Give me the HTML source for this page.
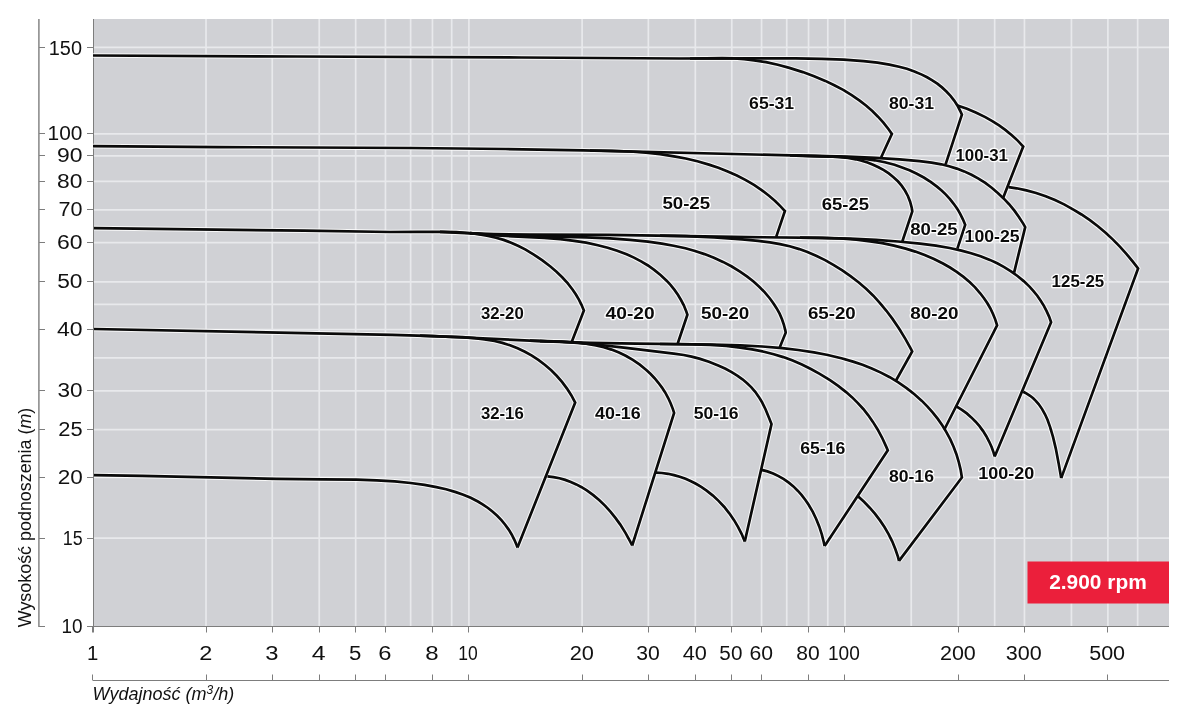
<!DOCTYPE html>
<html><head><meta charset="utf-8"><style>
html,body{margin:0;padding:0;background:#fff;}
svg{display:block;will-change:transform;}
</style></head><body>
<svg width="1200" height="717" viewBox="0 0 1200 717">
<rect x="93" y="19" width="1076" height="607.5" fill="#d0d1d5"/>
<path d="M206.02,19 V626.5 M272.25,19 V626.5 M319.23,19 V626.5 M355.68,19 V626.5 M385.46,19 V626.5 M410.64,19 V626.5 M432.45,19 V626.5 M451.69,19 V626.5 M468.90,19 V626.5 M582.12,19 V626.5 M648.35,19 V626.5 M695.33,19 V626.5 M731.78,19 V626.5 M761.56,19 V626.5 M786.74,19 V626.5 M808.55,19 V626.5 M827.79,19 V626.5 M845.00,19 V626.5 M911.23,19 V626.5 M958.22,19 V626.5 M994.67,19 V626.5 M1024.45,19 V626.5 M1071.43,19 V626.5 M1107.88,19 V626.5 M1137.66,19 V626.5 M93,47.30 H1169 M93,133.80 H1169 M93,155.90 H1169 M93,181.40 H1169 M93,209.90 H1169 M93,242.70 H1169 M93,281.90 H1169 M93,304.40 H1169 M93,329.50 H1169 M93,357.90 H1169 M93,390.90 H1169 M93,429.70 H1169 M93,477.30 H1169 M93,538.20 H1169" stroke="#e8e9ec" stroke-width="1.7" fill="none"/>
<path d="M93.5,19 V632.5 M87,626.5 H1169 M39,47.5 H45 M87,47.5 H93 M39,133.5 H45 M87,133.5 H93 M39,155.5 H45 M87,155.5 H93 M39,181.5 H45 M87,181.5 H93 M39,209.5 H45 M87,209.5 H93 M39,242.5 H45 M87,242.5 H93 M39,281.5 H45 M87,281.5 H93 M39,329.5 H45 M87,329.5 H93 M39,390.5 H45 M87,390.5 H93 M39,429.5 H45 M87,429.5 H93 M39,477.5 H45 M87,477.5 H93 M39,538.5 H45 M87,538.5 H93 M39,626.5 H45 M87,626.5 H93 M92.5,626.5 V632.5 M92.5,674.5 V680.5 M206.5,626.5 V632.5 M206.5,674.5 V680.5 M272.5,626.5 V632.5 M272.5,674.5 V680.5 M319.5,626.5 V632.5 M319.5,674.5 V680.5 M355.5,626.5 V632.5 M355.5,674.5 V680.5 M385.5,626.5 V632.5 M385.5,674.5 V680.5 M432.5,626.5 V632.5 M432.5,674.5 V680.5 M468.5,626.5 V632.5 M468.5,674.5 V680.5 M582.5,626.5 V632.5 M582.5,674.5 V680.5 M648.5,626.5 V632.5 M648.5,674.5 V680.5 M695.5,626.5 V632.5 M695.5,674.5 V680.5 M731.5,626.5 V632.5 M731.5,674.5 V680.5 M761.5,626.5 V632.5 M761.5,674.5 V680.5 M808.5,626.5 V632.5 M808.5,674.5 V680.5 M844.5,626.5 V632.5 M844.5,674.5 V680.5 M958.5,626.5 V632.5 M958.5,674.5 V680.5 M1024.5,626.5 V632.5 M1024.5,674.5 V680.5 M1107.5,626.5 V632.5 M1107.5,674.5 V680.5 M93,680.5 H1169" stroke="#7d7d7d" stroke-width="1" fill="none"/>
<path d="M38.9,19 V627.0" stroke="#858585" stroke-width="1.5" fill="none"/>
<g stroke="#fff" stroke-width="4.7" fill="none" stroke-linejoin="miter" stroke-miterlimit="10" opacity="0.85">
<path d="M93.0,55.5 L297.2,56.5 L521.4,57.5 L679.5,58.5 L753.5,58.4 L795.6,58.3 L821.6,58.8 L843.6,59.7 L863.6,61.2 L877.5,62.7 L889.4,64.6 L899.1,66.7 L906.9,68.8 L914.4,71.4 L921.8,74.6 L927.1,77.3 L932.3,80.3 L937.3,83.7 L942.0,87.4 L946.4,91.5 L950.5,95.9 L954.2,100.6 L957.5,105.7 L960.3,111.0 L961.9,114.6 L945.6,164.4"/>
<path d="M690.0,58.5 L722.1,58.1 L734.2,58.4 L744.2,59.1 L754.1,60.3 L766.0,62.2 L777.8,64.8 L789.4,67.9 L802.8,72.1 L814.1,76.2 L825.3,80.9 L834.3,85.2 L843.2,89.9 L851.7,95.2 L860.0,100.9 L866.3,105.8 L872.3,111.1 L878.0,116.7 L883.4,122.7 L888.4,129.0 L891.9,133.9 L881.2,157.3"/>
<path d="M957.5,105.5 L967.0,108.8 L976.3,112.7 L985.3,117.1 L992.3,121.1 L999.1,125.4 L1005.6,130.1 L1011.8,135.2 L1017.7,140.6 L1023.2,146.5 L1003.2,197.8"/>
<path d="M93.0,146.2 L219.1,147.1 L411.3,148.0 L505.4,149.0 L583.5,150.4 L791.6,155.4 L847.6,156.7 L875.6,157.8 L899.6,159.3 L919.5,161.1 L931.5,162.6 L941.3,164.3 L949.1,166.2 L956.8,168.6 L964.2,171.4 L971.5,174.8 L978.5,178.6 L985.3,182.9 L991.7,187.7 L997.8,192.9 L1003.6,198.4 L1009.1,204.2 L1014.2,210.4 L1018.9,216.9 L1023.2,223.6 L1025.2,227.1 L1014.1,272.6"/>
<path d="M590.0,150.5 L612.0,150.8 L630.1,151.5 L646.0,152.7 L660.0,154.2 L673.9,156.3 L685.7,158.5 L697.4,161.3 L708.9,164.6 L718.4,167.8 L727.7,171.4 L736.9,175.5 L745.8,180.1 L754.4,185.2 L762.7,190.9 L769.0,195.8 L775.1,201.0 L780.8,206.6 L784.9,211.0 L776.2,236.9"/>
<path d="M790.0,155.4 L802.0,155.9 L828.1,156.3 L838.1,156.9 L848.0,157.9 L855.9,159.3 L861.7,160.7 L867.5,162.5 L873.1,164.7 L878.5,167.2 L883.8,170.1 L888.8,173.4 L893.5,177.2 L897.9,181.3 L901.8,185.9 L905.1,190.8 L908.0,196.2 L910.1,201.7 L911.7,207.6 L912.3,211.5 L902.4,241.2"/>
<path d="M795.0,155.5 L839.1,156.8 L853.1,157.7 L865.0,158.9 L874.9,160.3 L884.8,162.3 L894.5,164.8 L902.1,167.4 L909.5,170.3 L916.8,173.7 L923.8,177.5 L930.6,181.8 L937.0,186.6 L941.6,190.5 L945.9,194.6 L950.0,199.1 L953.7,203.8 L957.2,208.7 L960.2,213.9 L962.9,219.3 L965.2,224.8 L957.4,248.7"/>
<path d="M94.0,228.2 L304.2,230.7 L390.3,232.0 L418.3,231.9 L442.4,231.8 L456.4,232.2 L468.3,233.0 L478.3,234.2 L488.2,235.9 L496.0,237.7 L503.6,239.9 L511.1,242.7 L518.5,246.0 L525.6,249.6 L534.2,254.8 L542.4,260.4 L550.4,266.5 L556.5,271.7 L562.2,277.3 L567.6,283.2 L572.5,289.5 L575.9,294.5 L578.9,299.7 L581.6,305.1 L583.9,310.6 L571.7,342.0"/>
<path d="M440.0,231.8 L466.0,233.2 L494.0,234.1 L530.0,234.6 L608.0,234.8 L674.1,235.9 L748.1,237.1 L818.1,237.8 L850.1,238.7 L876.1,239.9 L898.1,241.5 L920.0,243.6 L935.9,245.7 L949.7,248.0 L961.4,250.6 L971.1,253.2 L980.6,256.3 L989.9,259.9 L997.2,263.3 L1004.2,267.1 L1011.0,271.3 L1017.5,276.0 L1023.7,281.1 L1029.5,286.6 L1033.5,291.1 L1037.3,295.7 L1040.7,300.7 L1043.9,305.8 L1046.6,311.1 L1049.1,316.6 L1051.1,322.2 L994.7,456.5"/>
<path d="M470.0,233.1 L486.0,234.7 L506.1,236.0 L544.2,237.9 L560.2,239.2 L574.2,240.8 L586.1,242.7 L597.9,245.2 L607.7,247.7 L617.2,250.7 L626.6,254.3 L634.0,257.6 L641.1,261.4 L648.0,265.5 L654.5,270.1 L660.8,275.2 L666.6,280.7 L670.7,285.2 L674.5,289.9 L677.9,294.8 L681.0,300.0 L683.8,305.3 L686.1,310.9 L687.4,314.7 L677.8,343.2"/>
<path d="M470.0,233.1 L488.0,234.5 L510.0,235.6 L544.0,236.5 L586.0,237.4 L610.0,238.4 L630.0,239.8 L647.9,241.6 L661.8,243.6 L673.6,245.7 L685.4,248.3 L695.0,251.0 L704.5,254.1 L713.9,257.7 L723.0,261.9 L731.8,266.5 L740.4,271.8 L746.9,276.4 L753.2,281.3 L759.2,286.7 L764.8,292.4 L769.9,298.5 L773.5,303.4 L776.7,308.4 L779.6,313.7 L782.0,319.2 L783.9,324.9 L785.4,330.7 L785.7,332.7 L779.8,347.2"/>
<path d="M660.0,235.6 L686.1,236.2 L714.1,237.5 L742.1,239.3 L758.1,240.8 L770.0,242.3 L779.9,244.1 L789.7,246.3 L799.3,249.1 L806.8,251.8 L816.1,255.7 L825.1,260.1 L833.8,265.1 L842.3,270.4 L850.5,276.1 L858.5,282.2 L866.1,288.8 L873.3,295.7 L880.0,303.1 L886.4,310.8 L892.5,318.9 L899.2,328.8 L905.5,339.1 L911.3,349.6 L912.2,351.4 L896.0,380.5"/>
<path d="M800.0,237.6 L822.1,237.8 L840.2,238.5 L856.3,239.7 L870.2,241.3 L882.2,243.2 L894.0,245.6 L905.7,248.6 L915.3,251.6 L924.7,255.0 L934.0,259.0 L943.0,263.5 L950.0,267.5 L956.7,271.8 L963.2,276.6 L969.3,281.8 L975.1,287.4 L980.4,293.5 L984.0,298.3 L987.4,303.3 L990.4,308.5 L993.0,314.0 L995.3,319.6 L997.1,325.3 L944.6,429.0"/>
<path d="M956.8,406.7 L961.9,409.9 L966.8,413.4 L971.3,417.4 L975.6,421.7 L979.5,426.2 L983.1,431.1 L986.3,436.2 L989.1,441.5 L991.6,447.0 L993.6,452.6 L994.7,456.5"/>
<path d="M1008.6,187.1 L1016.6,188.3 L1026.4,190.4 L1036.1,193.0 L1045.7,196.3 L1055.0,200.1 L1064.1,204.4 L1073.0,209.3 L1081.5,214.5 L1089.9,220.2 L1097.9,226.3 L1105.6,232.8 L1113.0,239.6 L1120.1,246.8 L1126.8,254.3 L1133.2,262.1 L1138.1,268.5 L1061.2,478.1"/>
<path d="M1023.2,391.7 L1026.7,393.6 L1030.1,395.8 L1033.2,398.3 L1036.0,401.1 L1038.6,404.1 L1042.1,409.1 L1045.0,414.3 L1047.5,419.8 L1050.2,427.3 L1053.0,436.9 L1055.8,448.6 L1058.8,464.3 L1061.2,478.1"/>
<path d="M94.0,329.0 L316.2,333.4 L392.2,334.8 L434.2,336.1 L488.2,338.6 L546.2,341.4 L590.2,342.8 L636.3,343.7 L712.3,344.5 L740.4,345.3 L762.4,346.5 L782.3,348.2 L798.2,350.0 L814.0,352.4 L827.8,355.0 L841.4,358.3 L853.0,361.6 L862.5,364.8 L871.8,368.4 L880.9,372.6 L889.8,377.2 L898.3,382.4 L906.6,388.1 L914.4,394.3 L921.9,400.9 L927.5,406.6 L932.8,412.6 L937.8,418.9 L942.4,425.5 L946.5,432.3 L950.3,439.4 L953.6,446.7 L956.4,454.2 L958.7,461.8 L960.6,469.6 L961.9,477.5 L899.0,560.9"/>
<path d="M420.0,335.6 L438.2,336.4 L462.4,337.2 L474.5,338.1 L484.5,339.3 L494.5,341.0 L502.3,342.9 L510.0,345.3 L517.6,348.3 L524.9,351.7 L531.9,355.6 L538.7,360.1 L545.1,365.0 L551.2,370.3 L556.9,376.0 L562.2,382.1 L567.0,388.6 L571.4,395.4 L575.2,402.5 L517.5,547.5"/>
<path d="M530.0,340.7 L562.1,341.6 L576.2,342.5 L586.1,343.7 L596.0,345.4 L603.8,347.2 L611.5,349.6 L619.0,352.5 L626.2,356.0 L633.2,360.1 L639.8,364.6 L646.0,369.7 L650.4,373.8 L654.6,378.2 L658.4,382.8 L662.0,387.6 L665.3,392.7 L668.2,398.0 L670.7,403.5 L672.9,409.1 L674.1,412.9 L632.2,545.5"/>
<path d="M540.0,341.1 L556.0,341.5 L574.1,342.6 L596.1,344.5 L626.0,347.9 L673.8,353.7 L683.7,355.0 L691.6,356.6 L699.3,358.6 L708.9,361.7 L718.2,365.4 L725.5,368.7 L732.5,372.6 L737.6,375.8 L742.5,379.3 L747.1,383.2 L751.4,387.4 L755.4,392.0 L758.8,396.9 L761.9,402.0 L765.5,409.2 L769.3,418.5 L771.5,424.1 L744.8,541.5"/>
<path d="M660.0,344.0 L692.1,344.3 L710.2,344.9 L726.2,346.0 L740.2,347.6 L752.1,349.4 L763.9,351.7 L773.7,354.2 L783.3,357.1 L792.7,360.6 L801.9,364.6 L810.9,369.0 L819.7,373.9 L830.0,380.2 L838.2,385.9 L846.1,392.1 L852.2,397.4 L857.9,403.1 L863.3,409.0 L868.3,415.3 L872.9,421.9 L877.2,428.7 L882.0,437.5 L886.2,446.6 L887.8,450.3 L824.6,546.1"/>
<path d="M94.0,475.2 L142.1,475.8 L276.4,478.8 L322.5,479.3 L356.6,479.6 L376.7,480.3 L394.7,481.4 L410.6,483.0 L424.5,484.9 L436.4,487.1 L446.1,489.3 L455.8,492.1 L463.3,494.7 L470.7,497.8 L477.9,501.5 L483.0,504.6 L488.0,508.0 L492.7,511.7 L497.2,515.7 L501.4,520.1 L505.2,524.7 L508.7,529.6 L511.8,534.7 L514.5,540.1 L516.8,545.6 L517.5,547.5"/>
<path d="M547.5,476.3 L553.5,477.1 L559.4,478.3 L565.2,479.9 L570.8,482.0 L576.3,484.4 L581.6,487.2 L586.8,490.4 L593.3,495.1 L599.4,500.3 L605.2,505.9 L610.6,511.8 L615.6,518.1 L620.3,524.6 L625.6,533.1 L630.4,541.9 L632.2,545.5"/>
<path d="M656.0,472.6 L662.0,473.0 L668.0,473.8 L674.0,475.1 L679.8,476.7 L685.5,478.8 L691.0,481.2 L696.4,484.0 L701.6,487.1 L706.6,490.6 L712.9,495.6 L718.8,501.1 L724.3,507.0 L729.3,513.3 L733.9,519.9 L738.0,526.9 L741.7,534.1 L744.8,541.5"/>
<path d="M761.6,469.9 L767.4,471.4 L773.1,473.5 L778.6,476.1 L783.8,479.1 L788.8,482.6 L793.4,486.4 L797.7,490.7 L801.7,495.2 L805.4,500.0 L808.8,505.0 L812.8,511.9 L816.3,519.2 L819.3,526.7 L821.8,534.3 L823.8,542.2 L824.6,546.1"/>
<path d="M858.0,496.3 L864.0,501.8 L869.7,507.7 L875.1,513.9 L880.0,520.4 L884.6,527.2 L888.7,534.3 L892.3,541.6 L895.4,549.2 L898.0,556.9 L899.0,560.9"/>
</g>
<g stroke="#0a0a0a" stroke-width="2.7" fill="none" stroke-linejoin="miter" stroke-miterlimit="10">
<path d="M93.0,55.5 L297.2,56.5 L521.4,57.5 L679.5,58.5 L753.5,58.4 L795.6,58.3 L821.6,58.8 L843.6,59.7 L863.6,61.2 L877.5,62.7 L889.4,64.6 L899.1,66.7 L906.9,68.8 L914.4,71.4 L921.8,74.6 L927.1,77.3 L932.3,80.3 L937.3,83.7 L942.0,87.4 L946.4,91.5 L950.5,95.9 L954.2,100.6 L957.5,105.7 L960.3,111.0 L961.9,114.6 L945.6,164.4"/>
<path d="M690.0,58.5 L722.1,58.1 L734.2,58.4 L744.2,59.1 L754.1,60.3 L766.0,62.2 L777.8,64.8 L789.4,67.9 L802.8,72.1 L814.1,76.2 L825.3,80.9 L834.3,85.2 L843.2,89.9 L851.7,95.2 L860.0,100.9 L866.3,105.8 L872.3,111.1 L878.0,116.7 L883.4,122.7 L888.4,129.0 L891.9,133.9 L881.2,157.3"/>
<path d="M957.5,105.5 L967.0,108.8 L976.3,112.7 L985.3,117.1 L992.3,121.1 L999.1,125.4 L1005.6,130.1 L1011.8,135.2 L1017.7,140.6 L1023.2,146.5 L1003.2,197.8"/>
<path d="M93.0,146.2 L219.1,147.1 L411.3,148.0 L505.4,149.0 L583.5,150.4 L791.6,155.4 L847.6,156.7 L875.6,157.8 L899.6,159.3 L919.5,161.1 L931.5,162.6 L941.3,164.3 L949.1,166.2 L956.8,168.6 L964.2,171.4 L971.5,174.8 L978.5,178.6 L985.3,182.9 L991.7,187.7 L997.8,192.9 L1003.6,198.4 L1009.1,204.2 L1014.2,210.4 L1018.9,216.9 L1023.2,223.6 L1025.2,227.1 L1014.1,272.6"/>
<path d="M590.0,150.5 L612.0,150.8 L630.1,151.5 L646.0,152.7 L660.0,154.2 L673.9,156.3 L685.7,158.5 L697.4,161.3 L708.9,164.6 L718.4,167.8 L727.7,171.4 L736.9,175.5 L745.8,180.1 L754.4,185.2 L762.7,190.9 L769.0,195.8 L775.1,201.0 L780.8,206.6 L784.9,211.0 L776.2,236.9"/>
<path d="M790.0,155.4 L802.0,155.9 L828.1,156.3 L838.1,156.9 L848.0,157.9 L855.9,159.3 L861.7,160.7 L867.5,162.5 L873.1,164.7 L878.5,167.2 L883.8,170.1 L888.8,173.4 L893.5,177.2 L897.9,181.3 L901.8,185.9 L905.1,190.8 L908.0,196.2 L910.1,201.7 L911.7,207.6 L912.3,211.5 L902.4,241.2"/>
<path d="M795.0,155.5 L839.1,156.8 L853.1,157.7 L865.0,158.9 L874.9,160.3 L884.8,162.3 L894.5,164.8 L902.1,167.4 L909.5,170.3 L916.8,173.7 L923.8,177.5 L930.6,181.8 L937.0,186.6 L941.6,190.5 L945.9,194.6 L950.0,199.1 L953.7,203.8 L957.2,208.7 L960.2,213.9 L962.9,219.3 L965.2,224.8 L957.4,248.7"/>
<path d="M94.0,228.2 L304.2,230.7 L390.3,232.0 L418.3,231.9 L442.4,231.8 L456.4,232.2 L468.3,233.0 L478.3,234.2 L488.2,235.9 L496.0,237.7 L503.6,239.9 L511.1,242.7 L518.5,246.0 L525.6,249.6 L534.2,254.8 L542.4,260.4 L550.4,266.5 L556.5,271.7 L562.2,277.3 L567.6,283.2 L572.5,289.5 L575.9,294.5 L578.9,299.7 L581.6,305.1 L583.9,310.6 L571.7,342.0"/>
<path d="M440.0,231.8 L466.0,233.2 L494.0,234.1 L530.0,234.6 L608.0,234.8 L674.1,235.9 L748.1,237.1 L818.1,237.8 L850.1,238.7 L876.1,239.9 L898.1,241.5 L920.0,243.6 L935.9,245.7 L949.7,248.0 L961.4,250.6 L971.1,253.2 L980.6,256.3 L989.9,259.9 L997.2,263.3 L1004.2,267.1 L1011.0,271.3 L1017.5,276.0 L1023.7,281.1 L1029.5,286.6 L1033.5,291.1 L1037.3,295.7 L1040.7,300.7 L1043.9,305.8 L1046.6,311.1 L1049.1,316.6 L1051.1,322.2 L994.7,456.5"/>
<path d="M470.0,233.1 L486.0,234.7 L506.1,236.0 L544.2,237.9 L560.2,239.2 L574.2,240.8 L586.1,242.7 L597.9,245.2 L607.7,247.7 L617.2,250.7 L626.6,254.3 L634.0,257.6 L641.1,261.4 L648.0,265.5 L654.5,270.1 L660.8,275.2 L666.6,280.7 L670.7,285.2 L674.5,289.9 L677.9,294.8 L681.0,300.0 L683.8,305.3 L686.1,310.9 L687.4,314.7 L677.8,343.2"/>
<path d="M470.0,233.1 L488.0,234.5 L510.0,235.6 L544.0,236.5 L586.0,237.4 L610.0,238.4 L630.0,239.8 L647.9,241.6 L661.8,243.6 L673.6,245.7 L685.4,248.3 L695.0,251.0 L704.5,254.1 L713.9,257.7 L723.0,261.9 L731.8,266.5 L740.4,271.8 L746.9,276.4 L753.2,281.3 L759.2,286.7 L764.8,292.4 L769.9,298.5 L773.5,303.4 L776.7,308.4 L779.6,313.7 L782.0,319.2 L783.9,324.9 L785.4,330.7 L785.7,332.7 L779.8,347.2"/>
<path d="M660.0,235.6 L686.1,236.2 L714.1,237.5 L742.1,239.3 L758.1,240.8 L770.0,242.3 L779.9,244.1 L789.7,246.3 L799.3,249.1 L806.8,251.8 L816.1,255.7 L825.1,260.1 L833.8,265.1 L842.3,270.4 L850.5,276.1 L858.5,282.2 L866.1,288.8 L873.3,295.7 L880.0,303.1 L886.4,310.8 L892.5,318.9 L899.2,328.8 L905.5,339.1 L911.3,349.6 L912.2,351.4 L896.0,380.5"/>
<path d="M800.0,237.6 L822.1,237.8 L840.2,238.5 L856.3,239.7 L870.2,241.3 L882.2,243.2 L894.0,245.6 L905.7,248.6 L915.3,251.6 L924.7,255.0 L934.0,259.0 L943.0,263.5 L950.0,267.5 L956.7,271.8 L963.2,276.6 L969.3,281.8 L975.1,287.4 L980.4,293.5 L984.0,298.3 L987.4,303.3 L990.4,308.5 L993.0,314.0 L995.3,319.6 L997.1,325.3 L944.6,429.0"/>
<path d="M956.8,406.7 L961.9,409.9 L966.8,413.4 L971.3,417.4 L975.6,421.7 L979.5,426.2 L983.1,431.1 L986.3,436.2 L989.1,441.5 L991.6,447.0 L993.6,452.6 L994.7,456.5"/>
<path d="M1008.6,187.1 L1016.6,188.3 L1026.4,190.4 L1036.1,193.0 L1045.7,196.3 L1055.0,200.1 L1064.1,204.4 L1073.0,209.3 L1081.5,214.5 L1089.9,220.2 L1097.9,226.3 L1105.6,232.8 L1113.0,239.6 L1120.1,246.8 L1126.8,254.3 L1133.2,262.1 L1138.1,268.5 L1061.2,478.1"/>
<path d="M1023.2,391.7 L1026.7,393.6 L1030.1,395.8 L1033.2,398.3 L1036.0,401.1 L1038.6,404.1 L1042.1,409.1 L1045.0,414.3 L1047.5,419.8 L1050.2,427.3 L1053.0,436.9 L1055.8,448.6 L1058.8,464.3 L1061.2,478.1"/>
<path d="M94.0,329.0 L316.2,333.4 L392.2,334.8 L434.2,336.1 L488.2,338.6 L546.2,341.4 L590.2,342.8 L636.3,343.7 L712.3,344.5 L740.4,345.3 L762.4,346.5 L782.3,348.2 L798.2,350.0 L814.0,352.4 L827.8,355.0 L841.4,358.3 L853.0,361.6 L862.5,364.8 L871.8,368.4 L880.9,372.6 L889.8,377.2 L898.3,382.4 L906.6,388.1 L914.4,394.3 L921.9,400.9 L927.5,406.6 L932.8,412.6 L937.8,418.9 L942.4,425.5 L946.5,432.3 L950.3,439.4 L953.6,446.7 L956.4,454.2 L958.7,461.8 L960.6,469.6 L961.9,477.5 L899.0,560.9"/>
<path d="M420.0,335.6 L438.2,336.4 L462.4,337.2 L474.5,338.1 L484.5,339.3 L494.5,341.0 L502.3,342.9 L510.0,345.3 L517.6,348.3 L524.9,351.7 L531.9,355.6 L538.7,360.1 L545.1,365.0 L551.2,370.3 L556.9,376.0 L562.2,382.1 L567.0,388.6 L571.4,395.4 L575.2,402.5 L517.5,547.5"/>
<path d="M530.0,340.7 L562.1,341.6 L576.2,342.5 L586.1,343.7 L596.0,345.4 L603.8,347.2 L611.5,349.6 L619.0,352.5 L626.2,356.0 L633.2,360.1 L639.8,364.6 L646.0,369.7 L650.4,373.8 L654.6,378.2 L658.4,382.8 L662.0,387.6 L665.3,392.7 L668.2,398.0 L670.7,403.5 L672.9,409.1 L674.1,412.9 L632.2,545.5"/>
<path d="M540.0,341.1 L556.0,341.5 L574.1,342.6 L596.1,344.5 L626.0,347.9 L673.8,353.7 L683.7,355.0 L691.6,356.6 L699.3,358.6 L708.9,361.7 L718.2,365.4 L725.5,368.7 L732.5,372.6 L737.6,375.8 L742.5,379.3 L747.1,383.2 L751.4,387.4 L755.4,392.0 L758.8,396.9 L761.9,402.0 L765.5,409.2 L769.3,418.5 L771.5,424.1 L744.8,541.5"/>
<path d="M660.0,344.0 L692.1,344.3 L710.2,344.9 L726.2,346.0 L740.2,347.6 L752.1,349.4 L763.9,351.7 L773.7,354.2 L783.3,357.1 L792.7,360.6 L801.9,364.6 L810.9,369.0 L819.7,373.9 L830.0,380.2 L838.2,385.9 L846.1,392.1 L852.2,397.4 L857.9,403.1 L863.3,409.0 L868.3,415.3 L872.9,421.9 L877.2,428.7 L882.0,437.5 L886.2,446.6 L887.8,450.3 L824.6,546.1"/>
<path d="M94.0,475.2 L142.1,475.8 L276.4,478.8 L322.5,479.3 L356.6,479.6 L376.7,480.3 L394.7,481.4 L410.6,483.0 L424.5,484.9 L436.4,487.1 L446.1,489.3 L455.8,492.1 L463.3,494.7 L470.7,497.8 L477.9,501.5 L483.0,504.6 L488.0,508.0 L492.7,511.7 L497.2,515.7 L501.4,520.1 L505.2,524.7 L508.7,529.6 L511.8,534.7 L514.5,540.1 L516.8,545.6 L517.5,547.5"/>
<path d="M547.5,476.3 L553.5,477.1 L559.4,478.3 L565.2,479.9 L570.8,482.0 L576.3,484.4 L581.6,487.2 L586.8,490.4 L593.3,495.1 L599.4,500.3 L605.2,505.9 L610.6,511.8 L615.6,518.1 L620.3,524.6 L625.6,533.1 L630.4,541.9 L632.2,545.5"/>
<path d="M656.0,472.6 L662.0,473.0 L668.0,473.8 L674.0,475.1 L679.8,476.7 L685.5,478.8 L691.0,481.2 L696.4,484.0 L701.6,487.1 L706.6,490.6 L712.9,495.6 L718.8,501.1 L724.3,507.0 L729.3,513.3 L733.9,519.9 L738.0,526.9 L741.7,534.1 L744.8,541.5"/>
<path d="M761.6,469.9 L767.4,471.4 L773.1,473.5 L778.6,476.1 L783.8,479.1 L788.8,482.6 L793.4,486.4 L797.7,490.7 L801.7,495.2 L805.4,500.0 L808.8,505.0 L812.8,511.9 L816.3,519.2 L819.3,526.7 L821.8,534.3 L823.8,542.2 L824.6,546.1"/>
<path d="M858.0,496.3 L864.0,501.8 L869.7,507.7 L875.1,513.9 L880.0,520.4 L884.6,527.2 L888.7,534.3 L892.3,541.6 L895.4,549.2 L898.0,556.9 L899.0,560.9"/>
</g>
<g font-family="&quot;Liberation Sans&quot;, sans-serif" font-weight="bold" font-size="17" fill="#0a0a0a" stroke="#fff" stroke-width="2.6" paint-order="stroke" stroke-linejoin="round">
<text x="749.1" y="108.8" textLength="45.0" lengthAdjust="spacingAndGlyphs">65-31</text>
<text x="889.0" y="109.0" textLength="45.0" lengthAdjust="spacingAndGlyphs">80-31</text>
<text x="955.4" y="161.1" textLength="52.5" lengthAdjust="spacingAndGlyphs">100-31</text>
<text x="662.4" y="209.3" textLength="47.7" lengthAdjust="spacingAndGlyphs">50-25</text>
<text x="821.8" y="209.5" textLength="47.3" lengthAdjust="spacingAndGlyphs">65-25</text>
<text x="910.2" y="234.8" textLength="47.5" lengthAdjust="spacingAndGlyphs">80-25</text>
<text x="964.6" y="242.2" textLength="54.9" lengthAdjust="spacingAndGlyphs">100-25</text>
<text x="1051.6" y="286.7" textLength="52.6" lengthAdjust="spacingAndGlyphs">125-25</text>
<text x="480.9" y="319.4" textLength="42.8" lengthAdjust="spacingAndGlyphs">32-20</text>
<text x="605.6" y="319.0" textLength="49.1" lengthAdjust="spacingAndGlyphs">40-20</text>
<text x="701.0" y="319.4" textLength="48.3" lengthAdjust="spacingAndGlyphs">50-20</text>
<text x="807.9" y="319.1" textLength="47.8" lengthAdjust="spacingAndGlyphs">65-20</text>
<text x="910.2" y="319.2" textLength="48.3" lengthAdjust="spacingAndGlyphs">80-20</text>
<text x="480.9" y="419.0" textLength="42.8" lengthAdjust="spacingAndGlyphs">32-16</text>
<text x="595.1" y="418.9" textLength="45.6" lengthAdjust="spacingAndGlyphs">40-16</text>
<text x="693.7" y="418.9" textLength="44.9" lengthAdjust="spacingAndGlyphs">50-16</text>
<text x="800.2" y="453.8" textLength="45.1" lengthAdjust="spacingAndGlyphs">65-16</text>
<text x="889.0" y="481.5" textLength="44.9" lengthAdjust="spacingAndGlyphs">80-16</text>
<text x="978.2" y="479.2" textLength="56.1" lengthAdjust="spacingAndGlyphs">100-20</text>
</g>
<g font-family="&quot;Liberation Sans&quot;, sans-serif" font-size="20.3" fill="#111">
<text x="48.78" y="55.4" textLength="33.23" lengthAdjust="spacingAndGlyphs">150</text>
<text x="47.56" y="140.2" textLength="34.84" lengthAdjust="spacingAndGlyphs">100</text>
<text x="56.97" y="162.3" textLength="25.51" lengthAdjust="spacingAndGlyphs">90</text>
<text x="57.09" y="187.8" textLength="25.39" lengthAdjust="spacingAndGlyphs">80</text>
<text x="58.44" y="216.3" textLength="23.99" lengthAdjust="spacingAndGlyphs">70</text>
<text x="56.97" y="249.1" textLength="25.51" lengthAdjust="spacingAndGlyphs">60</text>
<text x="57.20" y="288.3" textLength="25.27" lengthAdjust="spacingAndGlyphs">50</text>
<text x="56.93" y="335.9" textLength="25.55" lengthAdjust="spacingAndGlyphs">40</text>
<text x="57.41" y="397.3" textLength="25.05" lengthAdjust="spacingAndGlyphs">30</text>
<text x="58.22" y="436.1" textLength="24.33" lengthAdjust="spacingAndGlyphs">25</text>
<text x="57.69" y="483.7" textLength="25.08" lengthAdjust="spacingAndGlyphs">20</text>
<text x="62.78" y="544.6" textLength="19.90" lengthAdjust="spacingAndGlyphs">15</text>
<text x="61.60" y="632.7" textLength="21.02" lengthAdjust="spacingAndGlyphs">10</text>
<text x="86.95" y="659.8" textLength="11.29" lengthAdjust="spacingAndGlyphs">1</text>
<text x="199.34" y="659.8" textLength="13.05" lengthAdjust="spacingAndGlyphs">2</text>
<text x="265.31" y="659.8" textLength="13.23" lengthAdjust="spacingAndGlyphs">3</text>
<text x="311.89" y="659.8" textLength="13.84" lengthAdjust="spacingAndGlyphs">4</text>
<text x="349.12" y="659.8" textLength="12.35" lengthAdjust="spacingAndGlyphs">5</text>
<text x="378.33" y="659.8" textLength="13.21" lengthAdjust="spacingAndGlyphs">6</text>
<text x="425.18" y="659.8" textLength="13.37" lengthAdjust="spacingAndGlyphs">8</text>
<text x="458.21" y="659.8" textLength="19.47" lengthAdjust="spacingAndGlyphs">10</text>
<text x="569.73" y="659.8" textLength="24.21" lengthAdjust="spacingAndGlyphs">20</text>
<text x="636.17" y="659.8" textLength="23.55" lengthAdjust="spacingAndGlyphs">30</text>
<text x="682.66" y="659.8" textLength="24.17" lengthAdjust="spacingAndGlyphs">40</text>
<text x="719.38" y="659.8" textLength="23.01" lengthAdjust="spacingAndGlyphs">50</text>
<text x="749.56" y="659.8" textLength="23.56" lengthAdjust="spacingAndGlyphs">60</text>
<text x="796.17" y="659.8" textLength="23.45" lengthAdjust="spacingAndGlyphs">80</text>
<text x="827.99" y="659.8" textLength="31.84" lengthAdjust="spacingAndGlyphs">100</text>
<text x="939.94" y="659.8" textLength="35.88" lengthAdjust="spacingAndGlyphs">200</text>
<text x="1005.85" y="659.8" textLength="35.97" lengthAdjust="spacingAndGlyphs">300</text>
<text x="1089.15" y="659.8" textLength="35.97" lengthAdjust="spacingAndGlyphs">500</text>
</g>
<text transform="translate(31,627.3) rotate(-90)" font-family="&quot;Liberation Sans&quot;, sans-serif" font-size="17.9" fill="#111">Wysokość podnoszenia (<tspan font-style="italic">m</tspan>)</text>
<text x="92.5" y="699.5" font-family="&quot;Liberation Sans&quot;, sans-serif" font-size="18" font-style="italic" fill="#111">Wydajność (m<tspan dy="-6" font-size="12">3</tspan><tspan dy="6">/h)</tspan></text>
<rect x="1027.5" y="561.5" width="141.5" height="42" fill="#eb1f3b"/>
<text x="1049.2" y="589" textLength="97.6" lengthAdjust="spacingAndGlyphs" font-family="&quot;Liberation Sans&quot;, sans-serif" font-weight="bold" font-size="20" fill="#fff">2.900 rpm</text>
</svg>
</body></html>
